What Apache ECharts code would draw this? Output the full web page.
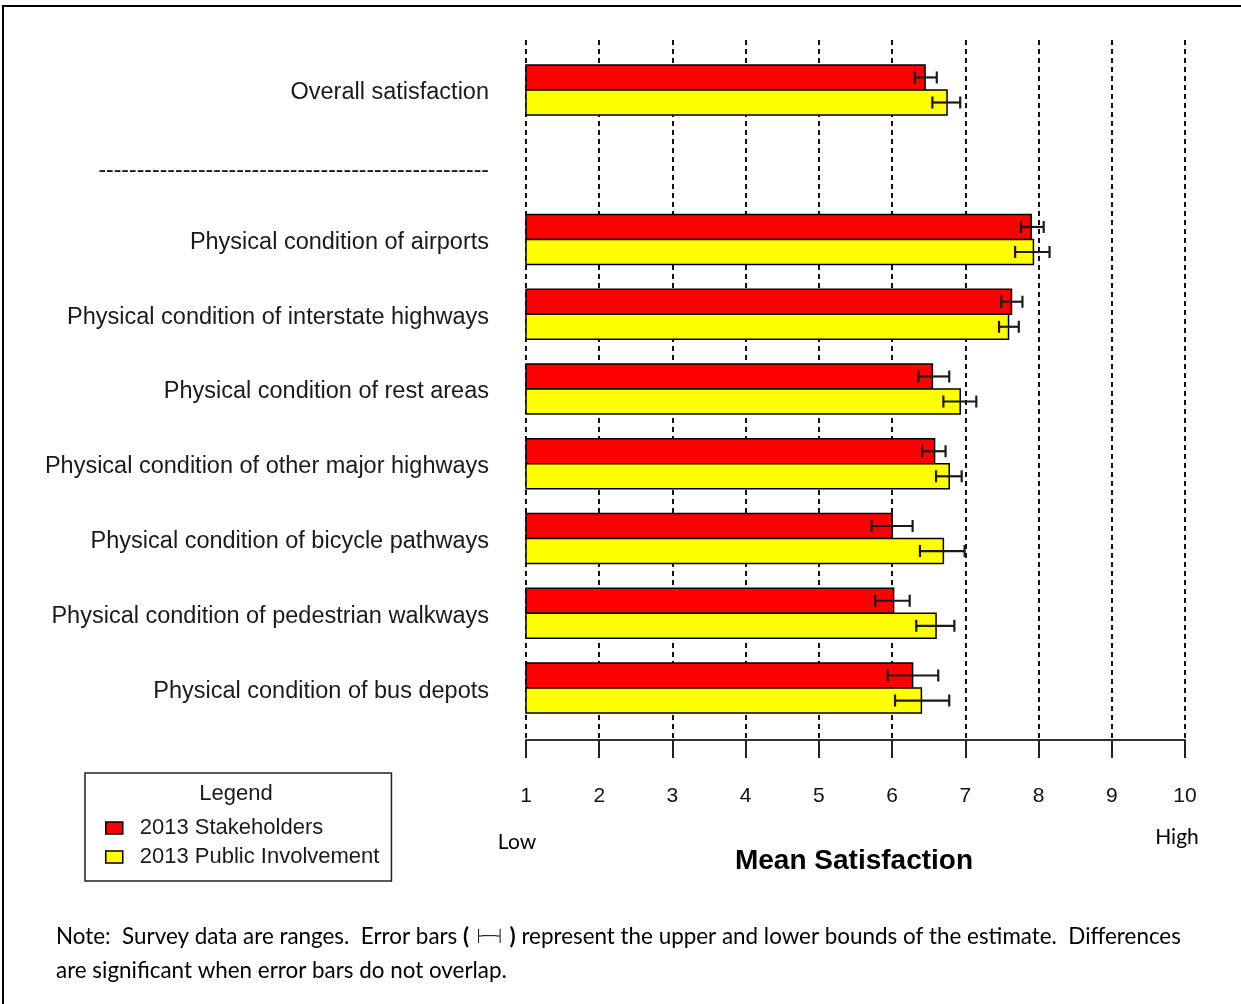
<!DOCTYPE html>
<html>
<head>
<meta charset="utf-8">
<title>Mean Satisfaction</title>
<script src="https://cdn.jsdelivr.net/npm/echarts@6/dist/echarts.min.js"></script>
<style>
  html, body { margin: 0; padding: 0; background: #fff; }
  #chart { width: 1241px; height: 1004px; }
</style>
</head>
<body>
<div id="chart"></div>
<script>
// scale ticks (1 = low, 10 = high)
var ticks = [1, 2, 3, 4, 5, 6, 7, 8, 9, 10];
var separator = '---------------------------------------------------';
var categories = [
  'Overall satisfaction',
  separator,
  'Physical condition of airports',
  'Physical condition of interstate highways',
  'Physical condition of rest areas',
  'Physical condition of other major highways',
  'Physical condition of bicycle pathways',
  'Physical condition of pedestrian walkways',
  'Physical condition of bus depots'
];
// 2013 Stakeholders
var stakeMean = [6.45, null, 7.90, 7.63, 6.55, 6.58, 6.00, 6.02, 6.28];
var stakeLow  = [6.31, null, 7.76, 7.49, 6.36, 6.41, 5.72, 5.77, 5.94];
var stakeHigh = [6.61, null, 8.07, 7.78, 6.78, 6.73, 6.28, 6.24, 6.63];
// 2013 Public Involvement
var publicMean = [6.75, null, 7.93, 7.59, 6.93, 6.78, 6.70, 6.60, 6.40];
var publicLow  = [6.55, null, 7.68, 7.46, 6.70, 6.60, 6.38, 6.33, 6.04];
var publicHigh = [6.93, null, 8.15, 7.73, 7.15, 6.95, 6.99, 6.85, 6.78];

var labelFont = '"Liberation Sans", Arial, sans-serif';
var noteFont = 'Lato, "Open Sans", sans-serif';

function rows(mean, low, high) {
  var out = [];
  mean.forEach(function (v, i) {
    if (v != null) out.push([v, i, low[i], high[i]]);
  });
  return out;
}

// side -1 = upper half of the band, 1 = lower half
function barWithError(side) {
  return function (params, api) {
    var v = api.value(0), i = api.value(1);
    var band = api.size([0, 1])[1];
    var h = band * 0.335;
    var base = api.coord([ticks[0], i]);
    var top = side < 0 ? base[1] - h : base[1];
    var mid = top + h / 2;
    var x1 = api.coord([v, i])[0];
    var xl = api.coord([api.value(2), i])[0];
    var xh = api.coord([api.value(3), i])[0];
    var cap = 6;
    var ls = { stroke: '#1a1a1a', lineWidth: 2.2 };
    return {
      type: 'group',
      children: [
        { type: 'rect', shape: { x: base[0], y: top, width: x1 - base[0], height: h },
          style: { fill: api.visual('color'), stroke: '#000', lineWidth: 1.5 } },
        { type: 'line', shape: { x1: xl, y1: mid, x2: xh, y2: mid }, style: ls },
        { type: 'line', shape: { x1: xl, y1: mid - cap, x2: xl, y2: mid + cap }, style: ls },
        { type: 'line', shape: { x1: xh, y1: mid - cap, x2: xh, y2: mid + cap }, style: ls }
      ]
    };
  };
}

var chart = echarts.init(document.getElementById('chart'));

var option = {
  animation: false,
  backgroundColor: '#fff',
  grid: [
    // bars
    { left: 526, right: 56, top: 52.6, bottom: 278.6 },
    // scale with the dashed guide lines
    { left: 526, right: 56, top: 40, bottom: 264 }
  ],
  xAxis: [
    { gridIndex: 0, type: 'value', min: ticks[0], max: ticks[ticks.length - 1], interval: 1, show: false },
    {
      gridIndex: 1, type: 'value', min: ticks[0], max: ticks[ticks.length - 1], interval: 1,
      axisLine: { show: true, lineStyle: { color: '#333', width: 2 } },
      axisTick: { show: true, length: 18, lineStyle: { color: '#222', width: 2 } },
      axisLabel: { margin: 46, fontSize: 21, color: '#111', fontFamily: labelFont,
        formatter: function (v) { return String(v); } },
      splitLine: { show: true, lineStyle: { color: '#111', width: 2, type: [5, 4] } }
    }
  ],
  yAxis: [
    {
      gridIndex: 0, type: 'category', data: categories, inverse: true,
      axisLine: { show: false }, axisTick: { show: false },
      axisLabel: {
        margin: 37, fontSize: 23.5, color: '#1a1a1a', fontFamily: labelFont,
        formatter: function (v) { return v === separator ? '{sep|' + v + '}' : '{lab|' + v + '}'; },
        rich: {
          lab: { fontSize: 23.5, fontFamily: labelFont, color: '#1a1a1a', padding: [6, 0, 0, 0] },
          sep: { fontSize: 23, fontFamily: labelFont, color: '#1a1a1a', padding: [12, 0, 0, 0] }
        }
      }
    },
    { gridIndex: 1, type: 'value', show: false, splitLine: { show: false } }
  ],
  legend: {
    left: 85, top: 773,
    orient: 'vertical',
    padding: [44, 12, 13, 20],
    borderColor: '#222', borderWidth: 1.5,
    itemWidth: 17, itemHeight: 12, itemGap: 7,
    textStyle: { fontSize: 22, lineHeight: 20, color: '#1a1a1a', fontFamily: labelFont, padding: [0, 0, 0, 12] },
    itemStyle: { borderColor: '#000', borderWidth: 1.5 },
    data: [
      { name: '2013 Stakeholders', icon: 'rect' },
      { name: '2013 Public Involvement', icon: 'rect' }
    ]
  },
  series: [
    {
      name: '2013 Stakeholders', type: 'custom', xAxisIndex: 0, yAxisIndex: 0,
      itemStyle: { color: '#ff0000' },
      encode: { x: 0, y: 1 },
      renderItem: barWithError(-1),
      data: rows(stakeMean, stakeLow, stakeHigh)
    },
    {
      name: '2013 Public Involvement', type: 'custom', xAxisIndex: 0, yAxisIndex: 0,
      itemStyle: { color: '#ffff00' },
      encode: { x: 0, y: 1 },
      renderItem: barWithError(1),
      data: rows(publicMean, publicLow, publicHigh)
    }
  ],
  graphic: [
    { type: 'rect', shape: { x: 3, y: 6, width: 1300, height: 1100 },
      style: { fill: 'none', stroke: '#000', lineWidth: 2 }, silent: true },
    { type: 'text', x: 236, y: 794,
      style: { text: 'Legend', fontSize: 22, fill: '#1a1a1a', fontFamily: labelFont, align: 'center', verticalAlign: 'middle' } },
    { type: 'text', x: 517, y: 842,
      style: { text: 'Low', fontSize: 21, fill: '#000', fontFamily: noteFont, align: 'center', verticalAlign: 'middle' } },
    { type: 'text', x: 1177, y: 837,
      style: { text: 'High', fontSize: 21, fill: '#000', fontFamily: noteFont, align: 'center', verticalAlign: 'middle' } },
    { type: 'text', x: 854, y: 861,
      style: { text: 'Mean Satisfaction', fontSize: 28, fontWeight: 'bold', fill: '#000', fontFamily: labelFont, align: 'center', verticalAlign: 'middle' } },
    { type: 'text', x: 56, y: 937,
      style: {
        text: 'Note:  Survey data are ranges.  Error bars {b|(} {s|├──┤} {b|)} represent the upper and lower bounds of the estimate.  Differences',
        fontSize: 22.4, fill: '#000', fontFamily: noteFont, verticalAlign: 'middle',
        rich: {
          b: { fontSize: 22.4, fontWeight: 'bold', fontFamily: noteFont },
          s: { fontSize: 12, fontFamily: '"DejaVu Sans"' }
        }
      } },
    { type: 'text', x: 56, y: 971,
      style: { text: 'are significant when error bars do not overlap.', fontSize: 22.4, fill: '#000', fontFamily: noteFont, verticalAlign: 'middle' } }
  ]
};

chart.setOption(option);
</script>
</body>
</html>
